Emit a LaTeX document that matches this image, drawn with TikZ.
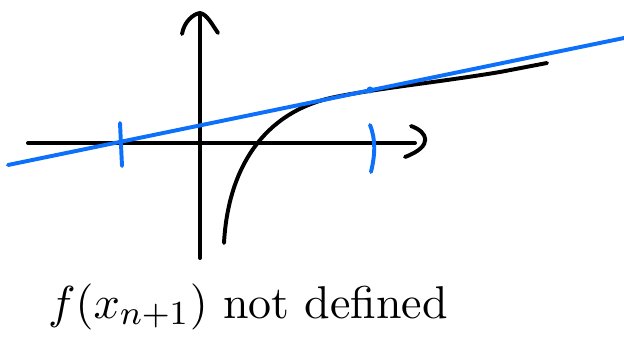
\documentclass[tikz,border=0pt]{standalone}
\usetikzlibrary{positioning}
\definecolor{penblue}{RGB}{12,112,250}

\begin{document}
\begin{tikzpicture}[
				x=0.025cm, y=-0.025cm,
				ink/.style={line width=2.8pt, line cap=round, line join=round},
				axis/.style={ink, black},
				tangent/.style={ink, penblue},
				label/.style={font=\fontsize{10.9}{13}\selectfont, scale=3, anchor=base}
				]
				
				\useasboundingbox (0,0) rectangle (624,340);
				
				% Axes
				\coordinate (xl) at (28,143);
				\coordinate (xr) at (415,143);
				\coordinate (yb) at (200,258);
				\coordinate (yt) at (200,14);
				\draw[axis] (xl) -- (xr);
				\draw[axis] (yb) -- (yt);
				
				% Hand drawn arrow heads
				\draw[axis] (411,126) .. controls (428,132) and (434,146) .. (405,157);
				\draw[axis] (182,34) .. controls (184,22) and (193,14) .. (200,13)
				.. controls (207,14) and (213,26) .. (218,33);
				
				% Function graph
				\draw[axis] (224,243) .. controls (228,170) and (262,112) .. (335,97)
				.. controls (380,88) and (440,82) .. (500,72)
				-- (547,63);
				
				% Tangent line
				\coordinate (tl) at (8,165);
				\coordinate (tr) at (624,38);
				\draw[tangent] (tl) -- (tr);
				
				% Marks on the x-axis
				\draw[tangent] (120,123) -- (122,166);
				\draw[tangent] (370,125) .. controls (376,140) and (375,155) .. (371,172);
				\fill[penblue] (370,90) circle (3.5);
				
				% Label
				\node[label] (undef) at (248,318) {$f(x_{n+1})$ not defined};
				
\end{tikzpicture}
\end{document}
